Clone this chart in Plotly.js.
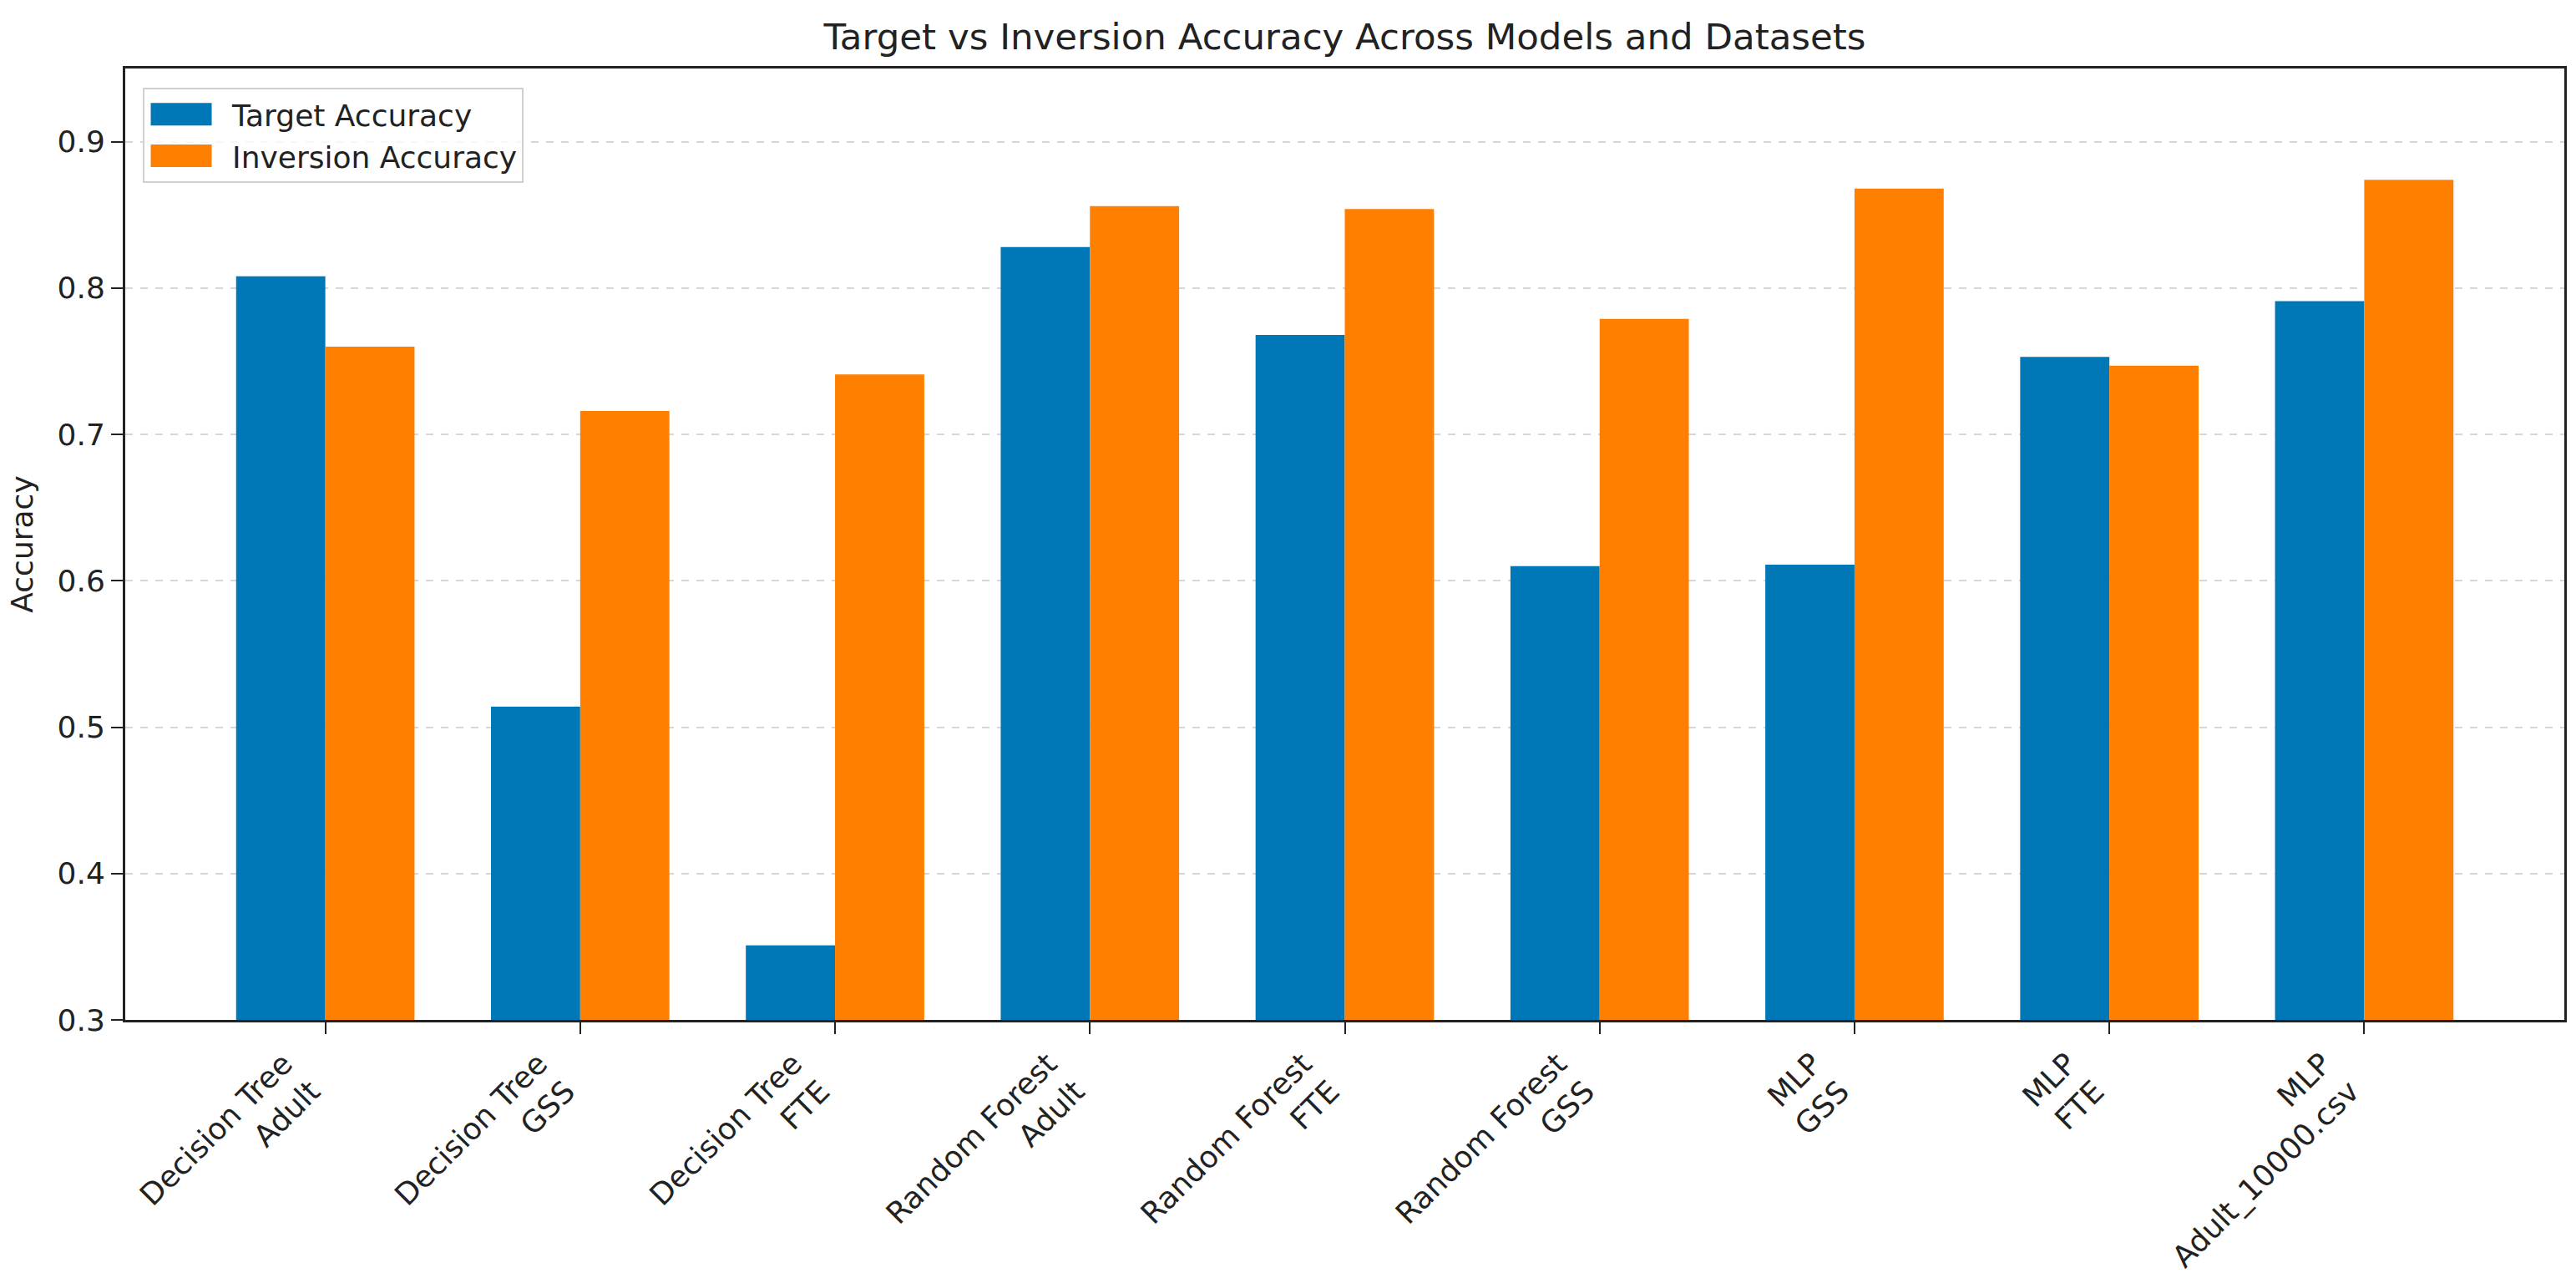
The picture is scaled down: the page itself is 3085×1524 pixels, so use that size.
<!DOCTYPE html>
<html>
<head>
<meta charset="utf-8">
<script src="https://cdn.plot.ly/plotly-3.0.1.min.js"></script>
<style>html,body{margin:0;padding:0;background:#fff;}#chart{width:3085px;height:1524px;}</style>
</head>
<body>
<div id="chart"></div>
<script>
const categories = [
  "Decision Tree<br>Adult",
  "Decision Tree<br>GSS",
  "Decision Tree<br>FTE",
  "Random Forest<br>Adult",
  "Random Forest<br>FTE",
  "Random Forest<br>GSS",
  "MLP<br>GSS",
  "MLP<br>FTE",
  "MLP<br>Adult_10000.csv"
];
const targetAccuracy = [0.808, 0.514, 0.351, 0.828, 0.768, 0.610, 0.611, 0.753, 0.791];
const inversionAccuracy = [0.760, 0.716, 0.741, 0.856, 0.854, 0.779, 0.868, 0.747, 0.874];
const yTicks = [0.3, 0.4, 0.5, 0.6, 0.7, 0.8, 0.9];

const FONT = "DejaVu Sans, Liberation Sans, sans-serif";

const traces = [
  {type: "bar", name: "Target Accuracy", x: categories, y: targetAccuracy,
   marker: {color: "#0077b6", line: {width: 0}}},
  {type: "bar", name: "Inversion Accuracy", x: categories, y: inversionAccuracy,
   marker: {color: "#ff7f00", line: {width: 0}}}
];

const layout = {
  width: 3085, height: 1524,
  paper_bgcolor: "#ffffff", plot_bgcolor: "#ffffff",
  margin: {l: 150, r: 14, t: 82, b: 303, pad: 0},
  font: {family: FONT, size: 36, color: "#222222"},
  title: {text: "Target vs Inversion Accuracy Across Models and Datasets",
          font: {family: FONT, size: 43.5, color: "#222222"},
          x: 0.5, xref: "paper", xanchor: "center", y: 0.971, yref: "container", yanchor: "middle"},
  barmode: "group", bargap: 0.3, bargroupgap: 0,
  showlegend: true,
  legend: {x: 0.0072, y: 0.98, xanchor: "left", yanchor: "top",
           bgcolor: "rgba(255,255,255,0.8)", bordercolor: "#d0d0d0", borderwidth: 2,
           itemwidth: 95,
           font: {family: FONT, size: 36, color: "#222222"}, tracegroupgap: 4},
  xaxis: {type: "category", range: [-0.785, 8.785], autorange: false,
          tickangle: -45, ticks: "outside", ticklen: 14, tickwidth: 2, tickcolor: "#222",
          ticklabelshift: -50,
          showline: true, linecolor: "#222", linewidth: 3, mirror: true,
          showgrid: false, zeroline: false, automargin: false,
          tickfont: {family: FONT, size: 36, color: "#222222"}},
  yaxis: {range: [0.3, 0.95], autorange: false, tickvals: yTicks,
          ticktext: yTicks.map(v => v.toFixed(1)),
          ticks: "outside", ticklen: 14, tickwidth: 2, tickcolor: "#222",
          showline: true, linecolor: "#222", linewidth: 3, mirror: true,
          showgrid: true, gridcolor: "#d6d6d6", gridwidth: 2, griddash: "dash",
          zeroline: false, automargin: false,
          tickfont: {family: FONT, size: 36, color: "#222222"},
          title: {text: "Accuracy", font: {family: FONT, size: 36, color: "#222222"}, standoff: 18}}
};

Plotly.newPlot("chart", traces, layout, {displayModeBar: false, staticPlot: true}).then(function(gd){
  // widen legend swatches to matplotlib-like rectangles
  gd.querySelectorAll(".legend .legendpoints path").forEach(function(p){
    p.setAttribute("d", "M-45,-13.5H28V13.5H-45Z");
  });
});
</script>
</body>
</html>
